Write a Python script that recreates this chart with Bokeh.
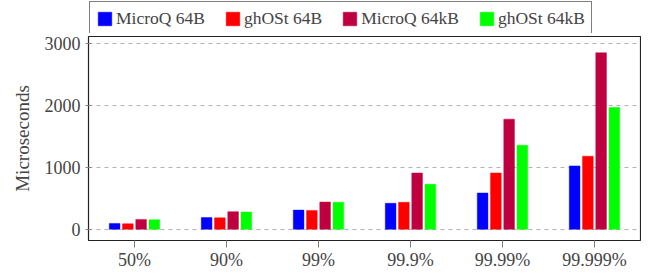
from bokeh.plotting import figure
from bokeh.models import (ColumnDataSource, FactorRange, Range1d, FixedTicker,
                          Legend, LegendItem)
from bokeh.layouts import column
from bokeh.transform import dodge
from bokeh.embed import file_html
from bokeh.resources import INLINE

percentiles = ["50%", "90%", "99%", "99.9%", "99.99%", "99.999%"]
microq_64b = [95, 190, 310, 420, 586, 1023]
ghost_64b = [90, 185, 305, 436, 909, 1179]
microq_64kb = [160, 285, 440, 909, 1777, 2848]
ghost_64kb = [155, 280, 435, 727, 1357, 1964]
y_ticks = [0, 1000, 2000, 3000]

series = [
    ("MicroQ 64B", "a", "#0000FF", -0.216),
    ("ghOSt 64B", "b", "#FF0000", -0.072),
    ("MicroQ 64kB", "c", "#BF0040", 0.072),
    ("ghOSt 64kB", "d", "#00FF00", 0.216),
]

FONT = "Liberation Serif"
W = 641
TOP_H = 33
H = 241
BOTTOM = 34

xr = FactorRange(*percentiles, range_padding=0)
src = ColumnDataSource(dict(x=percentiles, a=microq_64b, b=ghost_64b,
                            c=microq_64kb, d=ghost_64kb))

# legend strip: hidden copies of the bars feed the legend only
top = figure(x_range=xr, y_range=Range1d(-180, 3110), width=W, height=TOP_H,
             output_backend="svg", toolbar_location=None,
             x_axis_type=None, y_axis_type=None,
             min_border_left=82, min_border_right=1, min_border_top=0,
             min_border_bottom=0)
top.outline_line_color = None
top.xgrid.grid_line_color = None
top.ygrid.grid_line_color = None

p = figure(x_range=xr, y_range=Range1d(-180, 3110),
           width=W, height=H, output_backend="svg", toolbar_location=None,
           min_border_left=88, min_border_right=1, min_border_bottom=BOTTOM,
           min_border_top=3)

items = []
for name, col, color, off in series:
    kw = dict(x=dodge("x", off, range=xr), top=col, bottom=0, width=0.116,
              source=src, fill_color=color, line_color=color, line_alpha=0.45,
              line_width=1)
    p.vbar(**kw)
    r = top.vbar(visible=False, **kw)
    items.append(LegendItem(label=name, renderers=[r]))

legend = Legend(items=items, orientation="horizontal", location="top_left",
                label_text_font=FONT, label_text_font_size="17.5px",
                glyph_width=17, glyph_height=17, label_standoff=3, spacing=19,
                padding=6, margin=1, inactive_fill_alpha=0,
                border_line_color="black", border_line_width=1.2,
                background_fill_alpha=1)
top.add_layout(legend)

p.outline_line_color = "#222222"
p.outline_line_width = 1.2
p.xgrid.grid_line_color = None
p.ygrid.grid_line_color = "#b4b4b4"
p.ygrid.grid_line_dash = "4 4"
p.ygrid.grid_line_width = 1
p.yaxis.ticker = FixedTicker(ticks=y_ticks)

for ax in (p.xaxis[0], p.yaxis[0]):
    ax.axis_line_color = None
    ax.major_label_text_font = FONT
    ax.major_label_text_font_size = "18px"
    ax.minor_tick_line_color = None
    ax.major_tick_line_color = "#808080"

p.xaxis.major_tick_out = 7
p.xaxis.major_tick_in = 0
p.xaxis.major_label_standoff = 2
p.yaxis.major_tick_out = 3
p.yaxis.major_tick_in = 3
p.yaxis.major_label_standoff = 5
p.yaxis.axis_label = "Microseconds"
p.yaxis.axis_label_text_font = FONT
p.yaxis.axis_label_text_font_size = "19px"
p.yaxis.axis_label_text_font_style = "normal"
p.yaxis.axis_label_standoff = 9

layout = column(top, p, spacing=0)
open("out.html", "w").write(file_html(layout, INLINE))
